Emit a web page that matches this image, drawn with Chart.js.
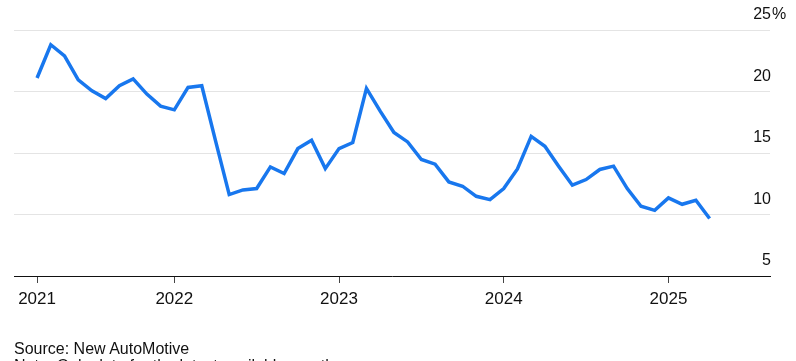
<!DOCTYPE html>
<html>
<head>
<meta charset="utf-8">
<script src="https://cdn.jsdelivr.net/npm/chart.js@4"></script>
<style>
    body { margin: 0; background: #fff; }
    #wrap { position: relative; width: 796px; height: 361px; overflow: hidden; }
    .foot { position: absolute; left: 14px; font-family: "Liberation Sans", Arial, sans-serif; font-size: 16px; color: #111; white-space: nowrap; }
</style>
</head>
<body>
<div id="wrap">
    <canvas id="myChart" width="796" height="361"></canvas>
    <div class="foot" style="top:340px">Source: New AutoMotive</div>
    <div class="foot" style="top:357px">Note: Only data for the latest available months</div>
</div>
<script>
// monthly share, Mar 2021 .. Apr 2025 (index 0 = first month)
const shareValues = [
    21.1, 23.8, 22.9, 20.95, 20.06, 19.43, 20.47, 21.03, 19.79, 18.81,
    18.51, 20.33, 20.47, 16.0, 11.62, 12.0, 12.11, 13.87, 13.33, 15.36,
    16.04, 13.73, 15.36, 15.85, 20.25, 18.4, 16.67, 15.9, 14.47, 14.09,
    12.65, 12.3, 11.48, 11.21, 12.11, 13.7, 16.35, 15.55, 13.93, 12.38,
    12.84, 13.66, 13.93, 12.11, 10.67, 10.34, 11.35, 10.83, 11.16, 9.67
];
const yearTickIndex = [0, 10, 22, 34, 46];
const yearTickLabels = ['2021', '2022', '2023', '2024', '2025'];
const yTicks = [5, 10, 15, 20, 25];

const points = shareValues.map((v, i) => ({ x: i, y: v }));

// y labels sit above their gridline, right side, "%" only on the top one
const yLabelPlugin = {
    id: 'yLabels',
    afterDraw(chart) {
        const ctx = chart.ctx;
        const y = chart.scales.y;
        ctx.save();
        ctx.font = '16px "Liberation Sans", Arial, sans-serif';
        ctx.fillStyle = '#111';
        ctx.textBaseline = 'alphabetic';
        y.ticks.forEach(t => {
            const py = y.getPixelForValue(t.value) - 11;
            ctx.textAlign = 'right';
            ctx.fillText(String(t.value), 771, py);
            if (t.value === yTicks[yTicks.length - 1]) {
                ctx.textAlign = 'left';
                ctx.fillText('%', 772, py);
            }
        });
        ctx.restore();
    }
};

let chart;
function createChart() {
    const ctx = document.getElementById('myChart').getContext('2d');
    chart = new Chart(ctx, {
        type: 'line',
        data: {
            datasets: [{
                data: points,
                borderColor: '#1877ee',
                borderWidth: 3.5,
                pointRadius: 0,
                tension: 0,
                borderJoinStyle: 'miter',
                clip: false
            }]
        },
        options: {
            responsive: false,
            animation: false,
            layout: { padding: { left: 14, right: 26, top: 30, bottom: 0 } },
            plugins: { legend: { display: false }, tooltip: { enabled: false } },
            scales: {
                x: {
                    type: 'linear',
                    min: -1.68,
                    max: 53.4,
                    afterBuildTicks: s => { s.ticks = yearTickIndex.map(v => ({ value: v })); },
                    afterFit: s => { s.height = 85; },
                    grid: { drawOnChartArea: false, drawTicks: true, tickLength: 7, tickColor: '#444', lineWidth: 1 },
                    border: { display: true, color: '#111', width: 1 },
                    ticks: {
                        autoSkip: false,
                        maxRotation: 0,
                        padding: 6,
                        color: '#111',
                        font: { family: '"Liberation Sans", Arial, sans-serif', size: 17 },
                        callback: v => yearTickLabels[yearTickIndex.indexOf(v)]
                    }
                },
                y: {
                    position: 'right',
                    min: 5,
                    max: 25,
                    afterBuildTicks: s => { s.ticks = yTicks.map(v => ({ value: v })); },
                    afterFit: s => { s.width = 0; },
                    grid: { color: '#e4e4e4', lineWidth: 1, drawTicks: false },
                    border: { display: false },
                    ticks: { display: false }
                }
            }
        },
        plugins: [yLabelPlugin]
    });
}

document.addEventListener('DOMContentLoaded', createChart);
</script>
</body>
</html>
